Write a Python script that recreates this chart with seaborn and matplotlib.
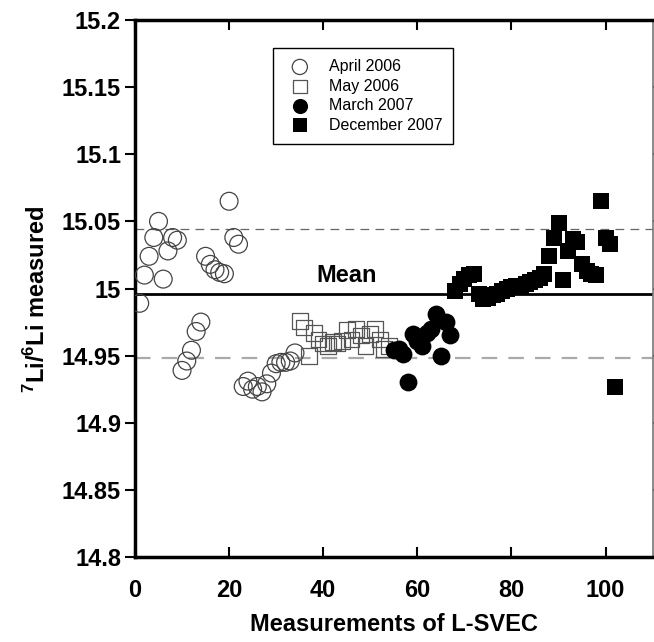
import matplotlib
matplotlib.use("Agg")
import matplotlib.pyplot as plt
import seaborn as sns

# Medições por série (índice da medição, razão 7Li/6Li)
april_x = list(range(1, 35))
april_y = [14.989, 15.010, 15.024, 15.038, 15.050, 15.007, 15.028, 15.038, 15.036,
           14.939, 14.946, 14.954, 14.968, 14.975, 15.024, 15.018, 15.014, 15.012,
           15.011, 15.065, 15.038, 15.033, 14.927, 14.931, 14.925, 14.927, 14.923,
           14.929, 14.937, 14.944, 14.945, 14.945, 14.946, 14.952]

may_x = list(range(35, 55))
may_y = [14.976, 14.971, 14.950, 14.967, 14.962, 14.959, 14.957, 14.960, 14.959,
         14.961, 14.969, 14.962, 14.970, 14.965, 14.957, 14.966, 14.970, 14.962,
         14.955, 14.957]

march_x = list(range(55, 68))
march_y = [14.954, 14.955, 14.951, 14.930, 14.966, 14.961, 14.957, 14.967, 14.970,
           14.981, 14.950, 14.975, 14.965]

dec_x = list(range(68, 103))
dec_y = [14.998, 15.003, 15.007, 15.010, 15.011, 14.996, 14.992, 14.993, 14.995,
         14.996, 14.998, 15.000, 15.001, 15.002, 15.002, 15.003, 15.005, 15.006,
         15.008, 15.011, 15.024, 15.038, 15.049, 15.006, 15.028, 15.037, 15.035,
         15.018, 15.013, 15.011, 15.010, 15.065, 15.038, 15.033, 14.927]

mean_val = 14.996
upper_val = 15.044
lower_val = 14.948

sns.set_style("white")
plt.rcParams['font.family'] = ['Liberation Sans', 'DejaVu Sans']
plt.rcParams['text.color'] = 'black'
plt.rcParams['axes.labelcolor'] = 'black'
plt.rcParams['xtick.color'] = 'black'
plt.rcParams['ytick.color'] = 'black'
plt.rcParams['mathtext.fontset'] = 'custom'
plt.rcParams['mathtext.rm'] = 'Liberation Sans:bold'
plt.rcParams['mathtext.bf'] = 'Liberation Sans:bold'

fig = plt.figure(figsize=(6.54, 6.42), dpi=100)
ax = fig.add_axes([0.2064, 0.1324, 0.7915, 0.8364])

# Linhas de referência
ax.axhline(mean_val, color="black", lw=2, zorder=1)
ax.axhline(upper_val, color="#666666", lw=0.9, ls=(0, (7, 5)), zorder=1)
ax.axhline(lower_val, color="#aaaaaa", lw=1.6, ls=(0, (7, 5)), zorder=1)

sns.scatterplot(x=april_x, y=april_y, marker="o", s=165, facecolors="none",
                edgecolor="#444444", linewidth=0.9, label="April 2006", ax=ax, zorder=3)
sns.scatterplot(x=may_x, y=may_y, marker="s", s=130, facecolors="none",
                edgecolor="#555555", linewidth=0.9, label="May 2006", ax=ax, zorder=3)
sns.scatterplot(x=march_x, y=march_y, marker="o", s=165, color="black",
                edgecolor="black", linewidth=0, label="March 2007", ax=ax, zorder=3)
sns.scatterplot(x=dec_x, y=dec_y, marker="s", s=140, color="black",
                edgecolor="black", linewidth=0, label="December 2007", ax=ax, zorder=3)

ax.text(45, 15.001, "Mean", fontsize=17, fontweight="bold", ha="center", va="bottom")

ax.set_xlim(0, 110)
ax.set_ylim(14.8, 15.2)
ax.set_xticks([0, 20, 40, 60, 80, 100])
ax.set_yticks([14.8, 14.85, 14.9, 14.95, 15.0, 15.05, 15.1, 15.15, 15.2])
ax.set_yticklabels(["14.8", "14.85", "14.9", "14.95", "15", "15.05", "15.1", "15.15", "15.2"])

ax.tick_params(axis="both", labelsize=17, width=1.5, length=7)
for lab in ax.get_xticklabels() + ax.get_yticklabels():
    lab.set_fontweight("bold")
ax.tick_params(axis="y", direction="out", left=True, right=True, pad=3)
ax.tick_params(axis="x", direction="in", bottom=True, top=True, pad=16)

for side in ["left", "bottom", "top"]:
    ax.spines[side].set_linewidth(2.5)
    ax.spines[side].set_color("black")
ax.spines["right"].set_linewidth(1.2)
ax.spines["right"].set_color("#777777")

ax.set_xlabel("Measurements of L-SVEC", fontsize=17, fontweight="bold", labelpad=8)
ax.set_ylabel(r"$^{7}$Li/$^{6}$Li measured", fontsize=17, fontweight="bold")
ax.yaxis.set_label_coords(-0.165, 0.48)

leg = ax.legend(loc="upper left", bbox_to_anchor=(0.266, 0.948), fontsize=11.5,
                frameon=True, fancybox=False, edgecolor="black", framealpha=1,
                handletextpad=0.8, labelspacing=0.28, borderpad=0.7,
                borderaxespad=0, markerscale=0.85)
leg.get_frame().set_linewidth(1.0)

fig.savefig("out.png", dpi=100)
